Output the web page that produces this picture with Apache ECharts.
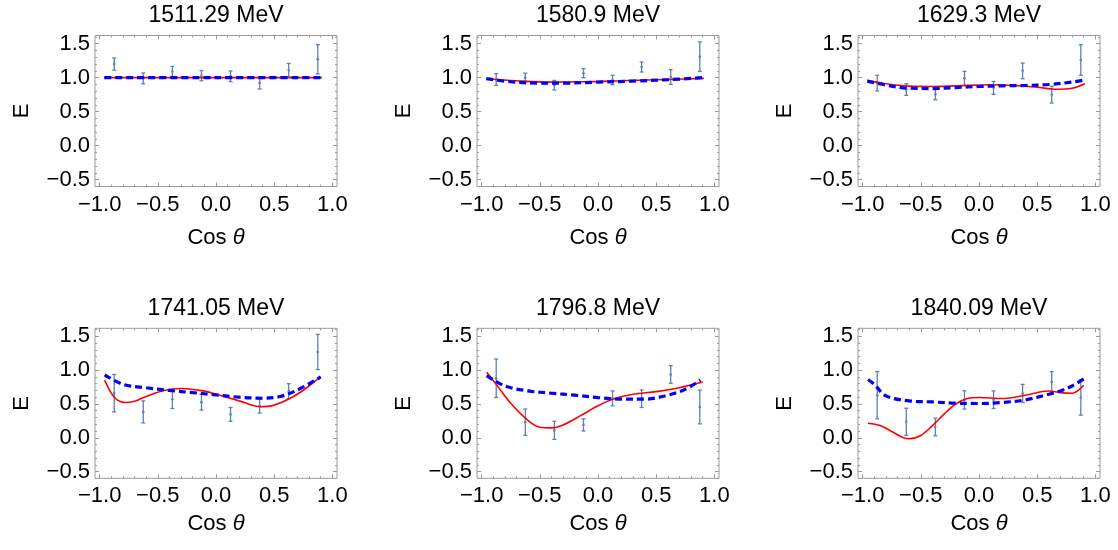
<!DOCTYPE html>
<html><head><meta charset="utf-8">
<script src="https://cdn.jsdelivr.net/npm/echarts@6/dist/echarts.min.js"></script>
<style>html,body{margin:0;padding:0;background:#fff}#c{width:1118px;height:550px}</style>
</head><body><div id="c"></div>
<script>
// ---- data ----
const titles = ['1511.29 MeV','1580.9 MeV','1629.3 MeV','1741.05 MeV','1796.8 MeV','1840.09 MeV'];
const cosBins = [-0.875,-0.625,-0.375,-0.125,0.125,0.375,0.625,0.875];
const xTicks = [-1,-0.5,0,0.5,1];
const yTicks = [-0.5,0,0.5,1,1.5];

const E1511 = [1.20, 0.99, 1.09, 1.03, 1.02, 0.92, 1.11, 1.27];
const E1511err = [0.09, 0.08, 0.075, 0.075, 0.078, 0.086, 0.10, 0.215];
const red1511 = [[-0.96,1.0],[0,1.0],[0.91,1.0]];
const blue1511 = [[-0.96,1.0],[0,1.0],[0.9,1.0]];

const E1580 = [0.973, 1.0, 0.89, 1.066, 0.966, 1.157, 1.01, 1.31];
const E1580err = [0.086, 0.066, 0.07, 0.066, 0.069, 0.074, 0.108, 0.216];
const red1580 = [[-0.96,0.985],[-0.7,0.955],[-0.4,0.935],[-0.1,0.94],[0.2,0.955],[0.5,0.97],[0.91,0.99]];
const blue1580 = [[-0.96,0.985],[-0.75,0.94],[-0.5,0.92],[-0.3,0.92],[0,0.935],[0.3,0.95],[0.6,0.97],[0.9,1.0]];

const E1629 = [0.92, 0.826, 0.757, 0.99, 0.85, 1.10, 0.75, 1.26];
const E1629err = [0.115, 0.086, 0.081, 0.103, 0.095, 0.115, 0.123, 0.225];
const red1629 = [[-0.96,0.96],[-0.8,0.91],[-0.6,0.875],[-0.4,0.87],[-0.2,0.88],[0.1,0.895],[0.3,0.885],[0.5,0.86],[0.65,0.83],[0.8,0.845],[0.91,0.91]];
const blue1629 = [[-0.96,0.95],[-0.8,0.89],[-0.6,0.845],[-0.4,0.84],[-0.2,0.855],[0,0.87],[0.2,0.88],[0.4,0.885],[0.6,0.9],[0.8,0.935],[0.9,0.965]];

const E1741 = [0.66, 0.383, 0.57, 0.527, 0.346, 0.468, 0.69, 1.27];
const E1741err = [0.276, 0.163, 0.137, 0.117, 0.102, 0.102, 0.11, 0.26];
const red1741 = [[-0.957,0.854],[-0.9,0.66],[-0.85,0.56],[-0.78,0.522],[-0.7,0.54],[-0.6,0.61],[-0.45,0.70],[-0.3,0.73],[-0.1,0.69],[0,0.645],[0.2,0.546],[0.38,0.46],[0.5,0.483],[0.65,0.595],[0.78,0.74],[0.895,0.90]];
const blue1741 = [[-0.957,0.93],[-0.8,0.79],[-0.6,0.74],[-0.4,0.70],[-0.2,0.668],[0,0.634],[0.2,0.60],[0.4,0.585],[0.55,0.61],[0.7,0.707],[0.9,0.90]];

const E1796 = [0.88, 0.23, 0.11, 0.19, 0.583, 0.578, 0.937, 0.456];
const E1796err = [0.285, 0.195, 0.134, 0.09, 0.11, 0.13, 0.13, 0.25];
const red1796 = [[-0.957,0.97],[-0.875,0.79],[-0.75,0.51],[-0.6,0.254],[-0.5,0.156],[-0.4,0.146],[-0.3,0.19],[-0.15,0.327],[0,0.473],[0.125,0.57],[0.3,0.644],[0.5,0.683],[0.7,0.741],[0.9,0.824]];
const blue1796 = [[-0.957,0.92],[-0.8,0.766],[-0.6,0.693],[-0.4,0.659],[-0.2,0.63],[0,0.595],[0.2,0.571],[0.4,0.571],[0.6,0.63],[0.75,0.717],[0.88,0.854]];

const E1840 = [0.63, 0.237, 0.16, 0.56, 0.563, 0.656, 0.827, 0.595];
const E1840err = [0.35, 0.2, 0.13, 0.135, 0.13, 0.134, 0.15, 0.26];
const red1840 = [[-0.954,0.215],[-0.85,0.18],[-0.75,0.093],[-0.65,0.0],[-0.6,-0.015],[-0.5,0.034],[-0.4,0.18],[-0.3,0.351],[-0.2,0.5],[-0.1,0.58],[0,0.595],[0.2,0.58],[0.4,0.63],[0.6,0.693],[0.7,0.668],[0.8,0.659],[0.9,0.776]];
const blue1840 = [[-0.954,0.863],[-0.9,0.79],[-0.8,0.62],[-0.6,0.546],[-0.4,0.53],[-0.2,0.512],[0,0.507],[0.2,0.522],[0.4,0.561],[0.6,0.644],[0.7,0.693],[0.8,0.766],[0.9,0.873]];

const panels = [
  {E:E1511, err:E1511err, red:red1511, blue:blue1511},
  {E:E1580, err:E1580err, red:red1580, blue:blue1580},
  {E:E1629, err:E1629err, red:red1629, blue:blue1629},
  {E:E1741, err:E1741err, red:red1741, blue:blue1741},
  {E:E1796, err:E1796err, red:red1796, blue:blue1796},
  {E:E1840, err:E1840err, red:red1840, blue:blue1840}
];

// ---- layout / style ----
const FONT = "'Liberation Sans', Arial, sans-serif";
const colLeft = [95, 477, 858];
const rowTop = [35.5, 328.3];
const rowH = [151, 150];
const plotW = 242;
const xNameGap = [40, 35];
const XMIN = -1.04, XMAX = 1.04, YMIN = -0.6, YMAX = 1.62;
const frameColor = '#9a9a9a';
const barColor = '#5e81b5';
const txt = '#000';

function minors(lo, hi) {
  const out = [];
  for (let k = Math.ceil(lo*10 - 1e-9); k <= Math.floor(hi*10 + 1e-9); k++) {
    if (k % 5 !== 0) out.push(k/10);
  }
  return out;
}
const xMinor = minors(XMIN, XMAX);
const yMinor = minors(YMIN, YMAX);
const fmt = v => (v < 0 ? '\u2212' : '') + Math.abs(v).toFixed(1);

function renderErr(params, api) {
  const x = api.value(0), y = api.value(1), e = api.value(2);
  const t = api.coord([x, y + e]), b = api.coord([x, y - e]), m = api.coord([x, y]);
  const cw = 2;
  const st = {stroke: barColor, lineWidth: 1.3};
  return {type: 'group', children: [
    {type: 'line', shape: {x1: t[0], y1: t[1], x2: b[0], y2: b[1]}, style: st},
    {type: 'line', shape: {x1: t[0]-cw, y1: t[1], x2: t[0]+cw, y2: t[1]}, style: st},
    {type: 'line', shape: {x1: b[0]-cw, y1: b[1], x2: b[0]+cw, y2: b[1]}, style: st},
    {type: 'circle', shape: {cx: m[0], cy: m[1], r: 1.3}, style: {fill: barColor}}
  ]};
}

const grid = [], xAxis = [], yAxis = [], series = [], title = [];
panels.forEach((p, i) => {
  const r = Math.floor(i / 3), c = i % 3;
  grid.push({left: colLeft[c], top: rowTop[r], width: plotW, height: rowH[r],
    show: true, borderColor: frameColor, borderWidth: 1, containLabel: false});
  title.push({text: titles[i], left: colLeft[c] + plotW/2, top: rowTop[r] - 31, textAlign: 'center',
    padding: 0, textStyle: {fontFamily: FONT, fontSize: 23, fontWeight: 'normal', color: txt, lineHeight: 23}});
  const xi = xAxis.length, yi = yAxis.length;
  const noLine = {show: false, onZero: false};
  const baseX = {type: 'value', gridIndex: i, min: XMIN, max: XMAX, splitLine: {show: false}, axisLine: noLine};
  const baseY = {type: 'value', gridIndex: i, min: YMIN, max: YMAX, splitLine: {show: false}, axisLine: noLine};
  xAxis.push(Object.assign({}, baseX, {position: 'bottom',
    axisTick: {show: true, inside: true, length: 4, customValues: xTicks, lineStyle: {color: frameColor}},
    axisLabel: {show: true, customValues: xTicks, formatter: fmt, margin: 7, fontFamily: FONT, fontSize: 22, color: txt},
    name: 'Cos {i|θ}', nameLocation: 'middle', nameGap: xNameGap[r],
    nameTextStyle: {fontFamily: FONT, fontSize: 22, color: txt, rich: {i: {fontStyle: 'italic', fontFamily: FONT, fontSize: 22, color: txt}}}}));
  xAxis.push(Object.assign({}, baseX, {position: 'bottom',
    axisTick: {show: true, inside: true, length: 2, customValues: xMinor, lineStyle: {color: frameColor}},
    axisLabel: {show: false}}));
  xAxis.push(Object.assign({}, baseX, {position: 'top',
    axisTick: {show: true, inside: true, length: 4, customValues: xTicks, lineStyle: {color: frameColor}},
    axisLabel: {show: false}}));
  xAxis.push(Object.assign({}, baseX, {position: 'top',
    axisTick: {show: true, inside: true, length: 2, customValues: xMinor, lineStyle: {color: frameColor}},
    axisLabel: {show: false}}));
  yAxis.push(Object.assign({}, baseY, {position: 'left',
    axisTick: {show: true, inside: true, length: 4, customValues: yTicks, lineStyle: {color: frameColor}},
    axisLabel: {show: true, customValues: yTicks, formatter: fmt, margin: 5, fontFamily: FONT, fontSize: 22, color: txt},
    name: 'E', nameLocation: 'middle', nameGap: 62, nameRotate: 90,
    nameTextStyle: {fontFamily: FONT, fontSize: 22, color: txt}}));
  yAxis.push(Object.assign({}, baseY, {position: 'left',
    axisTick: {show: true, inside: true, length: 2, customValues: yMinor, lineStyle: {color: frameColor}},
    axisLabel: {show: false}}));
  yAxis.push(Object.assign({}, baseY, {position: 'right',
    axisTick: {show: true, inside: true, length: 4, customValues: yTicks, lineStyle: {color: frameColor}},
    axisLabel: {show: false}}));
  yAxis.push(Object.assign({}, baseY, {position: 'right',
    axisTick: {show: true, inside: true, length: 2, customValues: yMinor, lineStyle: {color: frameColor}},
    axisLabel: {show: false}}));

  series.push({type: 'custom', xAxisIndex: xi, yAxisIndex: yi, renderItem: renderErr,
    encode: {x: 0, y: 1}, data: cosBins.map((x, k) => [x, p.E[k], p.err[k]]), z: 2});
  series.push({type: 'line', xAxisIndex: xi, yAxisIndex: yi, data: p.red, smooth: 0.35,
    showSymbol: false, lineStyle: {color: '#ff0000', width: 1.6}, z: 3});
  series.push({type: 'line', xAxisIndex: xi, yAxisIndex: yi, data: p.blue, smooth: 0.35,
    showSymbol: false, lineStyle: {color: '#0000ff', width: 3.2, type: [7, 4]}, z: 4});
});

const chart = echarts.init(document.getElementById('c'), null, {renderer: 'canvas'});
chart.setOption({animation: false, backgroundColor: '#fff', title, grid, xAxis, yAxis, series});
</script>
</body></html>
